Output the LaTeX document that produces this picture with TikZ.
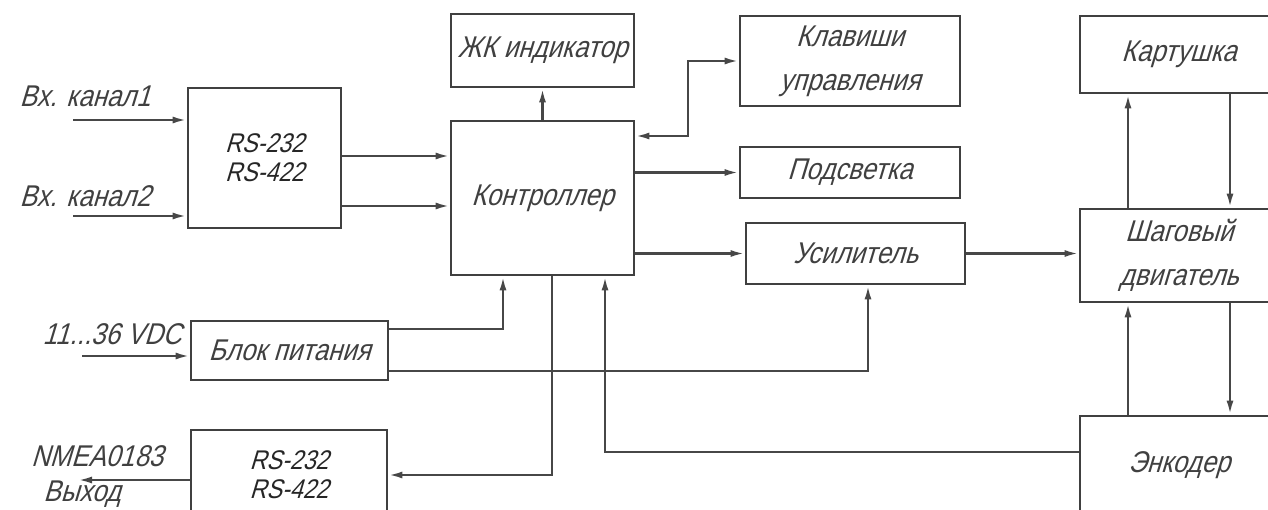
\documentclass[tikz,border=0pt]{standalone}
\usepackage{fontspec}
\setmainfont{Liberation Sans}[FakeSlant=0.3,FakeStretch=0.86]
\usetikzlibrary{arrows.meta}

\tikzset{
  blk/.style={draw=black!75, line width=2.8pt, inner sep=0pt, align=center, text=black!75},
  lbl/.style={inner sep=0pt, text=black!75},
  ln/.style={draw=black!72, line width=2.4pt},
  arr/.style={ln, -{Latex[length=14pt,width=7pt]}},
  darr/.style={ln, {Latex[length=14pt,width=7pt]}-{Latex[length=14pt,width=7pt]}},
  rsfont/.style={font=\fontsize{27}{29}\selectfont, text=black!85},
}

\begin{document}
\begin{tikzpicture}[x=1pt, y=-1pt, font=\fontsize{30}{44}\selectfont]
  \useasboundingbox (0,0) rectangle (1268,510);
  \clip (0,0) rectangle (1268,510);

  % blocks
  \node[blk, rsfont, minimum width=153pt, minimum height=140pt] (rsin) at (264.5,158) {RS-232\\RS-422};
  \node[blk, minimum width=183pt, minimum height=154pt] (ctrl) at (542.5,198) {Контроллер};
  \node[blk, minimum width=183pt, minimum height=73pt] (lcd) at (542.5,50.5) {ЖК индикатор};
  \node[blk, minimum width=220pt, minimum height=90pt] (keys) at (850,61) {Клавиши\\управления};
  \node[blk, minimum width=220pt, minimum height=51pt] (light) at (850,172.5) {Подсветка};
  \node[blk, minimum width=219pt, minimum height=61pt] (amp) at (855.5,253.5) {Усилитель};
  \node[blk, minimum width=198pt, minimum height=77pt] (card) at (1179,54.5) {Картушка};
  \node[blk, minimum width=198pt, minimum height=93pt] (motor) at (1179,255.5) {Шаговый\\двигатель};
  \node[blk, minimum width=198pt, minimum height=98pt] (enc) at (1179,465) {Энкодер};
  \node[blk, minimum width=197pt, minimum height=59pt] (psu) at (289.5,350.5) {Блок питания};
  \node[blk, rsfont, minimum width=196pt, minimum height=90pt] (rsout) at (289,475) {RS-232\\RS-422};

  % outside signals
  \node[lbl] (in1) at (85,96) {Вх. канал1};
  \node[lbl] (in2) at (85,196) {Вх. канал2};
  \node[lbl] (vdc) at (112,334) {11...36 VDC};
  \node[lbl] (nmea) at (97,456) {NMEA0183};
  \node[lbl] (out) at (82,494) {Выход};
  \coordinate (in1e) at (73,120);
  \coordinate (in2e) at (73,216);
  \coordinate (vdce) at (82,356);
  \coordinate (oute) at (78,480);

  \draw[arr] (in1e) -- (rsin.west |- in1e);
  \draw[arr] (in2e) -- (rsin.west |- in2e);
  \draw[arr] (vdce) -- (psu.west |- vdce);
  \draw[arr] (rsout.west |- oute) -- (oute);

  % links
  \draw[arr] (rsin.east |- 0,156) -- (ctrl.west |- 0,156);
  \draw[arr] (rsin.east |- 0,206) -- (ctrl.west |- 0,206);
  \draw[arr] (ctrl) -- (lcd);
  \draw[darr] (ctrl.east |- 0,136) -- (688,136) |- (keys.west);
  \draw[arr] (ctrl.east |- light.west) -- (light.west);
  \draw[arr] (ctrl.east |- amp.west) -- (amp.west);
  \draw[arr] (amp.east) -- (motor.west |- amp.east);
  \draw[arr] (motor.north -| 1128,0) -- (card.south -| 1128,0);
  \draw[arr] (card.south -| 1230,0) -- (motor.north -| 1230,0);
  \draw[arr] (enc.north -| 1128,0) -- (motor.south -| 1128,0);
  \draw[arr] (motor.south -| 1230,0) -- (enc.north -| 1230,0);
  \draw[arr] (psu.east |- 0,329) -| (ctrl.south -| 503,0);
  \draw[arr] (psu.east |- 0,371) -| (amp.south -| 868,0);
  \draw[arr] (ctrl.south -| 552,0) |- (rsout.east);
  \draw[arr] (enc.west |- 0,452) -| (ctrl.south -| 605,0);
\end{tikzpicture}
\end{document}
